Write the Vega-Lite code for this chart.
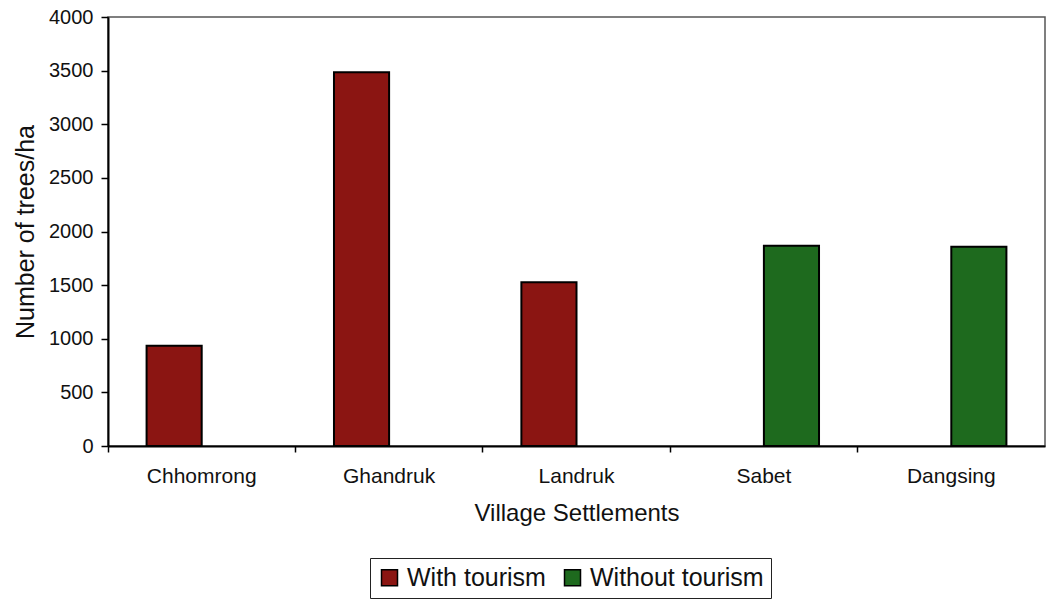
{
  "$schema": "https://vega.github.io/schema/vega-lite/v6.json",
  "autosize": "none",
  "width": 937,
  "height": 429,
  "padding": {"left": 108, "top": 17, "right": 2, "bottom": 153},
  "background": "#ffffff",
  "config": {
    "font": "Liberation Sans",
    "view": {"stroke": "#555555", "strokeWidth": 1.5}
  },
  "data": {
    "values": [
      {"village": "Chhomrong", "group": "With tourism", "trees": 935},
      {"village": "Ghandruk", "group": "With tourism", "trees": 3484},
      {"village": "Landruk", "group": "With tourism", "trees": 1526},
      {"village": "Sabet", "group": "Without tourism", "trees": 1868},
      {"village": "Dangsing", "group": "Without tourism", "trees": 1858}
    ]
  },
  "mark": {"type": "bar", "stroke": "#000000", "strokeWidth": 2},
  "encoding": {
    "x": {
      "field": "village",
      "type": "nominal",
      "sort": ["Chhomrong", "Ghandruk", "Landruk", "Sabet", "Dangsing"],
      "scale": {"paddingInner": 0, "paddingOuter": 0},
      "axis": {
        "title": "Village Settlements",
        "titleFontSize": 24,
        "titleFontWeight": "normal",
        "titleColor": "#111111",
        "titlePadding": 15,
        "labelAngle": 0,
        "labelFontSize": 21,
        "labelColor": "#111111",
        "labelPadding": 13,
        "bandPosition": 0,
        "tickSize": 6,
        "tickColor": "#000000",
        "tickWidth": 1.5,
        "domainColor": "#000000",
        "domainWidth": 2
      }
    },
    "xOffset": {
      "field": "group",
      "type": "nominal",
      "scale": {"domain": ["With tourism", "Without tourism"], "paddingInner": 0, "paddingOuter": 0.7}
    },
    "y": {
      "field": "trees",
      "type": "quantitative",
      "scale": {"domain": [0, 4000], "nice": false},
      "axis": {
        "title": "Number of trees/ha",
        "titleFontSize": 25,
        "titleFontWeight": "normal",
        "titleColor": "#111111",
        "titlePadding": 10,
        "values": [0, 500, 1000, 1500, 2000, 2500, 3000, 3500, 4000],
        "format": "d",
        "labelFontSize": 20,
        "labelColor": "#111111",
        "labelPadding": 8,
        "tickSize": 7,
        "tickColor": "#000000",
        "tickWidth": 1.5,
        "domainColor": "#000000",
        "domainWidth": 2,
        "grid": false
      }
    },
    "color": {
      "field": "group",
      "type": "nominal",
      "scale": {"domain": ["With tourism", "Without tourism"], "range": ["#8B1512", "#1E6A1E"]},
      "legend": {
        "title": null,
        "orient": "none",
        "legendX": 262,
        "legendY": 541,
        "direction": "horizontal",
        "columns": 2,
        "strokeColor": "#222222",
        "padding": 7,
        "symbolType": "square",
        "symbolSize": 256,
        "symbolStrokeColor": "#000000",
        "symbolStrokeWidth": 1.5,
        "symbolOpacity": 1,
        "labelFontSize": 25,
        "labelColor": "#111111",
        "labelOffset": 5,
        "columnPadding": 14,
        "labelLimit": 300
      }
    }
  }
}
